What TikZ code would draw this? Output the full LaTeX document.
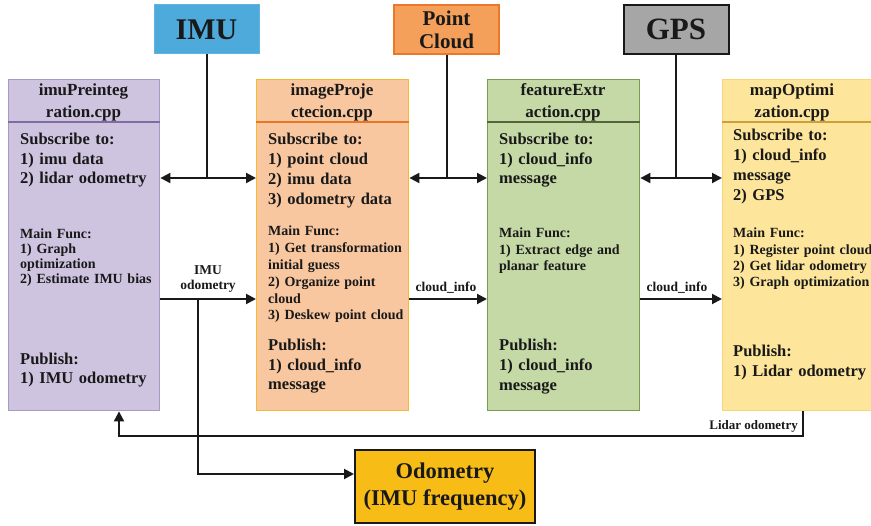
\documentclass[tikz,border=0pt]{standalone}
\usepackage{fontspec}
\setmainfont{Liberation Serif}
\usetikzlibrary{arrows.meta}
\definecolor{purpleFill}{RGB}{206,196,224}
\definecolor{purpleLine}{RGB}{168,152,198}
\definecolor{purpleDiv}{RGB}{128,108,165}
\definecolor{peachFill}{RGB}{248,199,160}
\definecolor{peachLine}{RGB}{245,186,52}
\definecolor{peachDiv}{RGB}{232,120,40}
\definecolor{greenFill}{RGB}{197,217,166}
\definecolor{greenLine}{RGB}{118,158,78}
\definecolor{greenDiv}{RGB}{85,100,60}
\definecolor{yellowFill}{RGB}{253,229,155}
\definecolor{yellowLine}{RGB}{247,214,118}
\definecolor{yellowDiv}{RGB}{205,160,60}
\definecolor{imuBlue}{RGB}{78,170,218}
\definecolor{imuLine}{RGB}{95,180,225}
\definecolor{pcOrange}{RGB}{244,160,90}
\definecolor{pcLine}{RGB}{235,120,40}
\definecolor{gpsGray}{RGB}{166,166,166}
\definecolor{odoGold}{RGB}{247,188,22}
\definecolor{ink}{RGB}{25,25,25}
\tikzset{
  mainbox/.style={draw, line width=1.4pt, anchor=north west, inner sep=0, minimum height=331pt},
  topbox/.style={draw, inner sep=0, minimum width=105pt, minimum height=49pt, align=center, text=ink},
  hdr/.style={anchor=base, inner sep=0, text width=150pt, align=center, text=ink,
    font=\bfseries\fontsize{17}{22}\selectfont},
  sec/.style={anchor=base west, inner sep=0, text width=150pt, align=left, text=ink},
  bigsec/.style={sec, font=\bfseries\fontsize{16.5}{#1}\selectfont},
  smallsec/.style={sec, font=\bfseries\fontsize{14}{#1}\selectfont},
  divider/.style={line width=1.5pt},
  wire/.style={line width=2pt, draw=ink},
  arr/.style={wire, -{Triangle[length=10pt,width=10pt]}},
  dbl/.style={wire, {Triangle[length=10pt,width=10pt]}-{Triangle[length=10pt,width=10pt]}},
  lbl/.style={inner sep=0, text=ink, align=center, font=\bfseries\fontsize{13.5}{15}\selectfont}
}
\begin{document}
\begin{tikzpicture}[x=1pt,y=-1pt]
\useasboundingbox[fill=white] (0,0) rectangle (871,526);

% top source boxes
\node[topbox, fill=imuBlue, draw=imuLine, line width=1pt, font=\bfseries\fontsize{30}{30}\selectfont] (imu) at (206.5,29.5) {IMU};
\node[topbox, fill=pcOrange, draw=pcLine, line width=1.5pt, font=\bfseries\fontsize{21}{23}\selectfont] (pc) at (446.5,29.5) {Point\\Cloud};
\node[topbox, fill=gpsGray, draw=ink, line width=2pt, font=\bfseries\fontsize{31}{31}\selectfont] (gps) at (676,29.5) {GPS};

% main boxes
\node[mainbox, fill=purpleFill, draw=purpleLine, minimum width=151pt] (pre) at (8,79) {};
\node[mainbox, fill=peachFill, draw=peachLine, minimum width=152pt] (proj) at (256,79) {};
\node[mainbox, fill=greenFill, draw=greenLine, minimum width=152pt] (feat) at (487,79) {};
\node[mainbox, fill=yellowFill, draw=yellowLine, minimum width=160pt] (mapo) at (722,79) {};

\coordinate (dv) at (0,122);
\draw[divider, purpleDiv] (pre.west |- dv) -- (pre.east |- dv);
\draw[divider, peachDiv] (proj.west |- dv) -- (proj.east |- dv);
\draw[divider, greenDiv] (feat.west |- dv) -- (feat.east |- dv);
\draw[divider, yellowDiv] (mapo.west |- dv) -- (mapo.east |- dv);

% headers
\node[hdr] (preh) at (83.5,96) {imuPreinteg\\ration.cpp};
\node[hdr] (projh) at (332,96) {imageProje\\ctecion.cpp};
\node[hdr] (feath) at (563,96) {featureExtr\\action.cpp};
\node[hdr] (mapoh) at (792,96) {mapOptimi\\zation.cpp};

% imuPreintegration
\node[bigsec=19.5] (pre1) at (20,145) {Subscribe to:\\1) imu data\\2) lidar odometry};
\node[smallsec=14.7] (pre2) at (20,239) {Main Func:\\1) Graph\\optimization\\2) Estimate IMU bias};
\node[bigsec=19] (pre3) at (20,365) {Publish:\\1) IMU odometry};

% imageProjection
\node[bigsec=19.7] (proj1) at (268,145) {Subscribe to:\\1) point cloud\\2) imu data\\3) odometry data};
\node[smallsec=16.8] (proj2) at (268,236) {Main Func:\\1) Get transformation\\initial guess\\2) Organize point\\cloud\\3) Deskew point cloud};
\node[bigsec=19.5] (proj3) at (268,351) {Publish:\\1) cloud\_info\\message};

% featureExtraction
\node[bigsec=19.5] (feat1) at (499,145) {Subscribe to:\\1) cloud\_info\\message};
\node[smallsec=16.5] (feat2) at (499,238) {Main Func:\\1) Extract edge and\\planar feature};
\node[bigsec=19.7] (feat3) at (499,351) {Publish:\\1) cloud\_info\\message};

% mapOptimization
\node[bigsec=20] (mapo1) at (733,141) {Subscribe to:\\1) cloud\_info\\message\\2) GPS};
\node[smallsec=16.3] (mapo2) at (733,238) {Main Func:\\1) Register point cloud\\2) Get lidar odometry\\3) Graph optimization};
\node[bigsec=20] (mapo3) at (733,357) {Publish:\\1) Lidar odometry};

% odometry output box
\node[draw=ink, line width=2pt, fill=odoGold, inner sep=0, minimum width=180pt, minimum height=73pt,
  align=center, text=ink, font=\bfseries\fontsize{22.5}{27}\selectfont] (odo) at (445,486.5) {Odometry\\(IMU frequency)};

% subscription connectors
\coordinate (s1) at (0,178);
\draw[wire] (imu.south) -- (imu.south |- s1);
\draw[dbl] (pre.east |- s1) -- (proj.west |- s1);
\draw[wire] (pc.south) -- (pc.south |- s1);
\draw[dbl] (proj.east |- s1) -- (feat.west |- s1);
\draw[wire] (gps.south) -- (gps.south |- s1);
\draw[dbl] (feat.east |- s1) -- (mapo.west |- s1);

% publish connectors
\coordinate (s2) at (0,299);
\draw[arr] (pre.east |- s2) -- (proj.west |- s2);
\draw[arr] (proj.east |- s2) -- (feat.west |- s2);
\draw[arr] (feat.east |- s2) -- (mapo.west |- s2);
\node[lbl] (limu) at (208,279) {IMU\\odometry};
\node[lbl, anchor=base] (lci1) at (446,292) {cloud\_info};
\node[lbl, anchor=base] (lci2) at (677,292) {cloud\_info};

% IMU odometry to output
\coordinate (t1) at (198,299);
\coordinate (s4) at (0,474);
\draw[arr] (t1) |- (odo.west |- s4);

% lidar odometry feedback
\coordinate (lx) at (803,0);
\coordinate (ax) at (119,0);
\coordinate (s3) at (0,436);
\draw[arr] (mapo.south -| lx) -- (lx |- s3) -- (ax |- s3) -- (pre.south -| ax);
\node[lbl, anchor=base east, font=\bfseries\fontsize{13}{15}\selectfont] (llid) at (798,430) {Lidar odometry};
\end{tikzpicture}
\end{document}
